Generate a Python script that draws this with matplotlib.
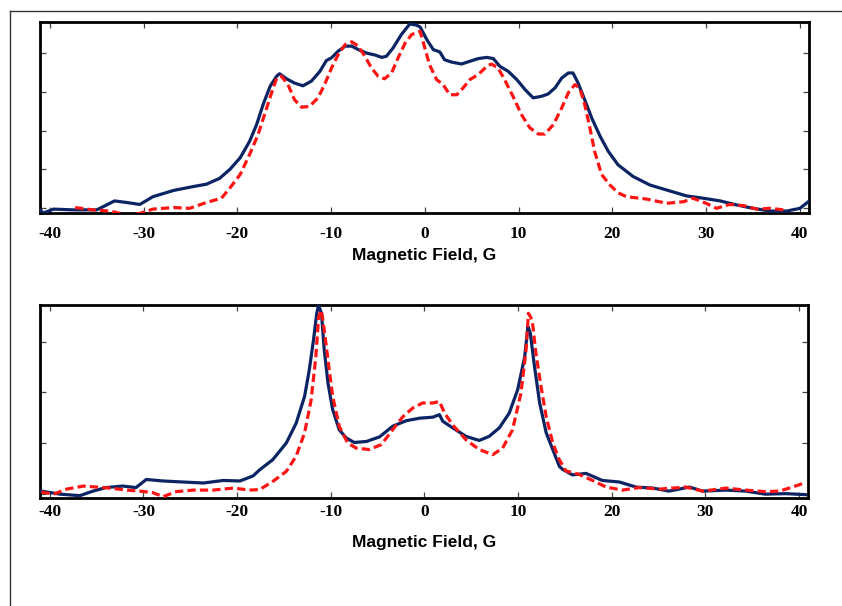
import matplotlib
matplotlib.use("Agg")
import matplotlib.pyplot as plt
from matplotlib.lines import Line2D

# ---------------- data ----------------
top_blue_x = [-41.0, -40.7, -39.6, -37.5, -35.0, -33.1, -31.8, -30.4, -29.0, -26.8, -24.7, -23.3, -21.9,
              -20.8, -19.7, -18.7, -17.95, -17.25, -16.5, -15.8, -15.5, -14.75, -13.9,
              -13.0, -12.1, -11.2, -10.5, -9.95, -9.25, -8.5, -7.8, -7.1, -6.2,
              -5.3, -4.6, -4.1, -3.4, -2.5, -1.6, -0.9, -0.5, 0.2, 0.9,
              1.6, 2.1, 2.85, 3.9, 4.8, 5.7, 6.6, 7.3, 8.0, 8.9,
              9.8, 10.7, 11.55, 12.45, 13.15, 13.9, 14.6, 15.3, 15.8, 16.35,
              17.05, 17.8, 18.7, 19.55, 20.6,
              22.2, 24.0, 25.8, 27.9, 29.7, 31.5, 33.2, 35.0, 36.8, 38.6, 40.0, 40.9]
top_blue_y = [-0.05, -0.12, -0.02, -0.04, -0.04, 0.19, 0.15, 0.10, 0.30, 0.46, 0.56, 0.62, 0.77,
              1.00, 1.30, 1.72, 2.15, 2.67, 3.14, 3.40, 3.46, 3.33, 3.22,
              3.15, 3.27, 3.52, 3.80, 3.87, 4.04, 4.17, 4.17, 4.08, 3.99,
              3.94, 3.88, 3.91, 4.12, 4.47, 4.74, 4.71, 4.66, 4.34, 4.08,
              4.02, 3.82, 3.76, 3.71, 3.78, 3.85, 3.88, 3.85, 3.65, 3.52,
              3.31, 3.05, 2.84, 2.88, 2.94, 3.10, 3.35, 3.48, 3.48, 3.22,
              2.79, 2.32, 1.85, 1.47, 1.12,
              0.82, 0.60, 0.47, 0.32, 0.26, 0.19, 0.09, 0.00, -0.07, -0.07, 0.00, 0.17]

top_red_x = [-37.3, -35.4, -33.6, -31.8, -30.4, -29.0, -26.8, -25.1, -23.3, -21.7,
             -20.8, -19.7, -18.7, -17.8, -17.1, -16.35, -15.8, -15.3, -14.6, -13.9,
             -13.15, -12.3, -11.4, -10.7, -9.95, -9.25, -8.5, -7.8, -7.1, -6.4,
             -5.7, -5.0, -4.3, -3.55, -2.85, -2.1, -1.4, -0.9, -0.5, 0.0,
             0.5, 1.25, 1.95, 2.65, 3.4, 4.1, 4.8, 5.7, 6.6, 7.1,
             7.8, 8.5, 9.4, 10.3, 11.2, 12.1, 12.8, 13.7, 14.6, 15.3,
             16.0, 16.5, 17.05, 17.6, 18.1, 18.85, 19.7, 20.6,
             21.5, 23.6, 25.8, 27.6, 28.6, 30.0, 31.1, 32.5, 34.0, 35.4, 36.8, 38.3]
top_red_y = [0.02, -0.04, -0.07, -0.17, -0.13, -0.02, 0.02, 0.00, 0.15, 0.26,
             0.52, 0.87, 1.38, 1.89, 2.41, 2.97, 3.35, 3.40, 3.18, 2.79,
             2.60, 2.62, 2.84, 3.18, 3.61, 3.95, 4.21, 4.28, 4.17, 3.91,
             3.61, 3.40, 3.33, 3.48, 3.87, 4.25, 4.47, 4.51, 4.55, 4.12,
             3.69, 3.31, 3.18, 2.92, 2.92, 3.10, 3.31, 3.44, 3.65, 3.71,
             3.61, 3.31, 2.88, 2.41, 2.07, 1.91, 1.91, 2.15, 2.58, 2.97,
             3.18, 3.10, 2.67, 2.07, 1.47, 0.87, 0.61, 0.40,
             0.30, 0.24, 0.13, 0.17, 0.26, 0.13, 0.00, 0.10, 0.07, -0.02, 0.00, -0.04]

bot_blue_x = [-40.9, -38.9, -36.8, -35.4, -34.0, -32.2, -30.8, -29.7, -27.9, -25.8, -23.6, -21.5,
              -19.7, -18.3,
              -17.6, -16.2, -14.75, -13.7, -12.8, -12.3, -11.85, -11.5, -11.3, -11.0,
              -10.7, -10.3, -9.8, -9.1, -8.35, -7.5, -6.2, -4.8, -3.4, -1.95,
              -0.5, 0.9, 1.6, 1.95, 3.0, 4.45, 5.85, 6.9, 8.0, 9.05,
              9.95, 10.7, 11.05, 11.3, 11.75, 12.3, 13.0, 13.7, 14.4,
              14.75, 15.8, 17.25, 19.0, 20.8, 22.6, 24.4, 26.1, 28.3, 29.7, 32.2, 34.3, 36.4,
              38.6, 40.7]
bot_blue_y = [0.05, -0.01, -0.04, 0.05, 0.12, 0.15, 0.12, 0.28, 0.25, 0.23, 0.21, 0.26,
              0.25, 0.35,
              0.47, 0.67, 1.00, 1.39, 1.92, 2.44, 3.03, 3.56, 3.72, 3.56,
              2.84, 2.18, 1.66, 1.26, 1.10, 1.01, 1.03, 1.12, 1.33, 1.44,
              1.49, 1.51, 1.56, 1.43, 1.30, 1.13, 1.05, 1.13, 1.30, 1.59,
              2.05, 2.70, 3.30, 3.17, 2.51, 1.79, 1.20, 0.87, 0.54,
              0.48, 0.37, 0.40, 0.26, 0.23, 0.13, 0.11, 0.05, 0.13, 0.05, 0.07, 0.05, -0.01,
              0.00, -0.02]

bot_red_x = [-40.9, -39.6, -38.2, -36.4, -35.0, -33.6, -31.8, -30.4, -29.0, -27.9, -26.5, -24.7,
             -22.6, -20.4, -18.7,
             -17.6, -16.2, -14.75, -13.7, -12.8, -12.1, -11.6, -11.3, -11.0, -10.7,
             -10.3, -9.8, -9.1, -8.2, -7.3, -5.9, -4.6, -3.4, -2.3, -1.25,
             -0.2, 0.9, 1.6, 2.15, 3.0, 4.45, 5.85, 7.3, 8.35, 9.4,
             10.3, 10.85, 11.1, 11.5, 11.9, 12.45, 13.0, 13.7, 14.4,
             15.1, 16.5, 17.95, 19.4, 21.15, 22.9, 25.1, 27.9, 29.7, 32.2, 34.3, 36.4, 37.9,
             39.3, 40.7]
bot_red_y = [0.03, -0.01, 0.09, 0.15, 0.13, 0.11, 0.07, 0.05, 0.02, -0.06, 0.04, 0.07,
             0.07, 0.11, 0.07,
             0.08, 0.24, 0.44, 0.74, 1.20, 1.85, 2.70, 3.49, 3.62, 3.23,
             2.64, 1.92, 1.33, 1.00, 0.90, 0.87, 0.97, 1.26, 1.52, 1.69,
             1.79, 1.79, 1.82, 1.59, 1.36, 1.06, 0.87, 0.77, 0.90, 1.26,
             1.98, 2.84, 3.56, 3.43, 2.77, 2.11, 1.52, 1.00, 0.67,
             0.45, 0.38, 0.26, 0.13, 0.07, 0.12, 0.09, 0.13, 0.05, 0.11, 0.07, 0.04, 0.05,
             0.13, 0.22]

x_ticks = [-40, -30, -20, -10, 0, 10, 20, 30, 40]
x_label = "Magnetic Field, G"

# ---------------- styling ----------------
BLUE = "#0b2463"
RED = "#ff1414"

fig = plt.figure(figsize=(8.42, 6.06), dpi=100)
fig.patch.set_facecolor("white")

ax1 = fig.add_axes([40/842, (606-213)/606, 768.5/842, 191/606])
ax2 = fig.add_axes([40/842, (606-497.7)/606, 767.7/842, 193/606])

panels = [
    (ax1, top_blue_x, top_blue_y, top_red_x, top_red_y, (-0.12, 4.79), [0, 1, 2, 3, 4], 9.5, 4.5),
    (ax2, bot_blue_x, bot_blue_y, bot_red_x, bot_red_y, (-0.08, 3.73), [0, 1, 2, 3], 4.5, 10.5),
]

for ax, bx, by, rx, ry, ylim, yt, tpad, lpad in panels:
    ax.plot(bx, by, color=BLUE, lw=2.3, solid_joinstyle="round", zorder=3)
    ax.plot(rx, ry, color=RED, lw=2.3, dashes=(2.6, 1.3), zorder=4)
    ax.set_xlim(-41.05, 40.92)
    ax.set_ylim(*ylim)
    ax.set_xticks(x_ticks)
    ax.set_xticklabels([str(t) for t in x_ticks], family="Liberation Serif",
                       fontweight="bold", fontsize=12.5)
    ax.set_yticks(yt)
    ax.set_yticklabels([])
    ax.tick_params(axis="both", direction="in", length=4.5, width=0.9, color="#444444",
                   top=True, right=True, left=True, bottom=True)
    ax.tick_params(axis="x", pad=tpad)
    for s in ax.spines.values():
        s.set_linewidth(2.0)
        s.set_color("black")
    ax.set_xlabel(x_label, family="Liberation Sans", fontweight="bold", fontsize=12.5,
                  labelpad=lpad)

# partial outer frame (top and left lines)
fig.add_artist(Line2D([9.5/842, 9.5/842], [0, (606-11)/606], transform=fig.transFigure,
                      color="#333333", lw=1.0))
fig.add_artist(Line2D([9.5/842, 1.0], [(606-11)/606, (606-11)/606], transform=fig.transFigure,
                      color="#333333", lw=1.0))

fig.savefig("out.png", dpi=100, facecolor="white")
